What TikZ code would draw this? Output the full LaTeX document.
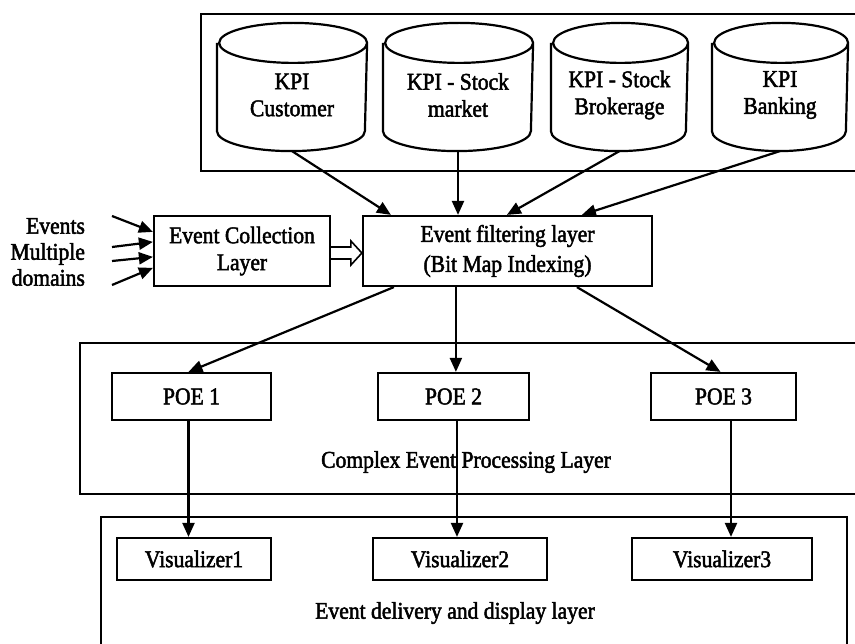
\documentclass[tikz,border=0pt]{standalone}
\usepackage{fontspec}
\setmainfont[FakeStretch=0.9,FakeBold=2]{Liberation Serif}
\usetikzlibrary{arrows.meta,calc}
\begin{document}
\begin{tikzpicture}[x=1pt,y=-1pt,line width=2.2pt,
  box/.style={draw,rectangle,inner sep=0pt,align=center,font=\fontsize{24}{27}\selectfont},
  txt/.style={inner sep=0pt,align=center,font=\fontsize{24}{27}\selectfont},
  cylbody/.style={inner sep=0pt,minimum height=126pt},
  arr/.style={-{Triangle[length=14pt,width=12pt]}},
  hollow/.style={line width=1.6pt}]
\useasboundingbox (0,0) rectangle (855,644);
\clip (0,0) rectangle (855,644);

% layer frames
\draw (201,14) rectangle (880,171);
\draw (80,343) rectangle (880,494);
\draw (101,517) rectangle (847,680);

\newcommand\kpicyl[4]{%
  \node[cylbody,minimum width=#3pt] (#1) at (#2,87) {};
  \pgfmathsetmacro\kpirx{#3/2}%
  \draw ([yshift=-20pt]#1.north west) -- ([yshift=20pt]#1.south west)
     arc[start angle=180,end angle=360,x radius=\kpirx pt,y radius=20pt]
     -- ([yshift=-20pt]#1.north east)
     arc[start angle=0,end angle=360,x radius=\kpirx pt,y radius=20pt];
  \node[txt] (#1t) at (#2,95) {#4};
}
\kpicyl{c1}{292}{148}{KPI\\Customer}
\kpicyl{c2}{458}{148}{KPI - Stock\\market}
\kpicyl{c3}{619.5}{135}{KPI - Stock\\Brokerage}
\kpicyl{c4}{780}{134}{KPI\\Banking}

\node[box,minimum width=176pt,minimum height=70pt] (ecl) at (242,251) {Event Collection\\Layer};
\node[box,minimum width=289pt,minimum height=70pt,font=\fontsize{24}{30}\selectfont] (efl) at (507.5,251) {Event filtering layer\\(Bit Map Indexing)};

\node[box,minimum width=159pt,minimum height=47pt] (poe1) at (191.5,396.5) {POE 1};
\node[box,minimum width=151pt,minimum height=47pt] (poe2) at (453.5,396.5) {POE 2};
\node[box,minimum width=145pt,minimum height=47pt] (poe3) at (723.5,396.5) {POE 3};

\node[box,minimum width=154pt,minimum height=42pt] (v1) at (194,559) {Visualizer1};
\node[box,minimum width=174pt,minimum height=42pt] (v2) at (460,559) {Visualizer2};
\node[box,minimum width=180pt,minimum height=42pt] (v3) at (722,559) {Visualizer3};

\node[txt] (cep) at (466,462) {Complex Event Processing Layer};
\node[txt] (edd) at (455,613) {Event delivery and display layer};
\node[txt,align=right,anchor=east,font=\fontsize{24}{26}\selectfont] (evt) at (86,252) {Events\\Multiple\\domains};

% input arrows
\coordinate (i1) at (112,216);
\coordinate (i2) at (112,247);
\coordinate (i3) at (112,261);
\coordinate (i4) at (112,285);
\draw[arr] (i1) -- ($(ecl.north west)+(0,17)$);
\draw[arr] (i2) -- ($(ecl.north west)+(0,27)$);
\draw[arr] (i3) -- ($(ecl.north west)+(0,42)$);
\draw[arr] (i4) -- ($(ecl.north west)+(0,53)$);

% hollow arrow
\draw[hollow] ($(ecl.east)+(0,-4)$) -- ($(efl.west)+(-11,-4)$) -- ($(efl.west)+(-11,-10)$)
  -- ($(efl.west)+(0,2)$) -- ($(efl.west)+(-11,14)$) -- ($(efl.west)+(-11,8)$) -- ($(ecl.east)+(0,8)$);

% KPI arrows
\draw[arr] (c1.south) -- ($(efl.north west)+(29,0)$);
\draw[arr] (c2.south) -- (c2.south |- efl.north);
\draw[arr] (c3.south) -- ($(efl.north west)+(145,0)$);
\draw[arr] (c4.south) -- ($(efl.north west)+(220,0)$);

% filter to POE
\draw[arr] ($(efl.south west)+(32,0)$) -- ($(poe1.north)+(-3,0)$);
\coordinate (e2) at ($(efl.south west)+(94,0)$);
\draw[arr] (e2) -- (e2 |- poe2.north);
\draw[arr] ($(efl.south west)+(215,0)$) -- ($(poe3.north)+(-3,0)$);

% POE to visualizers
\coordinate (p1) at ($(poe1.south)+(-3,0)$);
\coordinate (p2) at ($(poe2.south)+(3.5,0)$);
\coordinate (p3) at ($(poe3.south)+(7.5,0)$);
\draw[arr] (p1) -- (p1 |- v1.north);
\draw[arr] (p2) -- (p2 |- v2.north);
\draw[arr] (p3) -- (p3 |- v3.north);
\end{tikzpicture}
\end{document}
